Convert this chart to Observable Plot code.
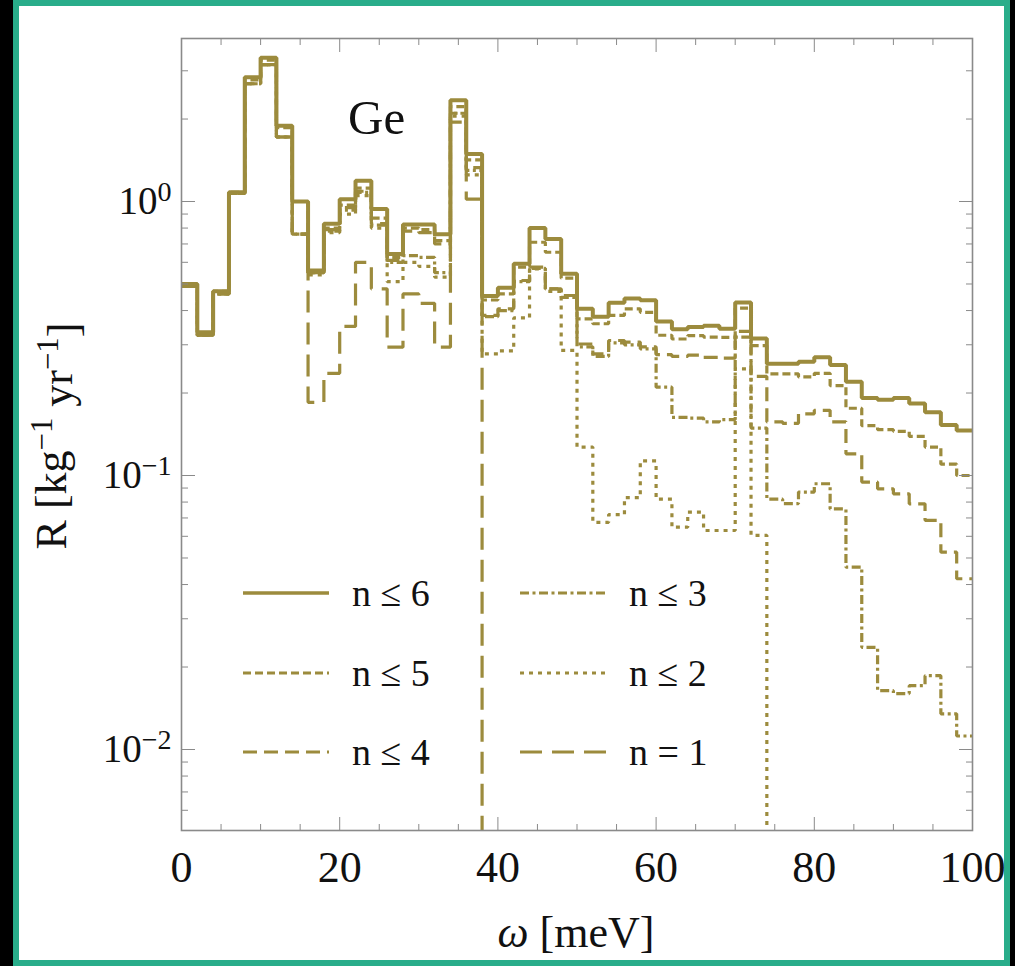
<!DOCTYPE html>
<html>
<head>
<meta charset="utf-8">
<script src="https://cdn.jsdelivr.net/npm/d3@7"></script>
<script src="https://cdn.jsdelivr.net/npm/@observablehq/plot@0.6"></script>
<style>
  html, body { margin: 0; padding: 0; background: #000; }
  #wrap { position: relative; width: 1015px; height: 966px; overflow: hidden; background: #000; }
  #card { position: absolute; left: 13px; top: 0; width: 997px; height: 966px; box-sizing: border-box;
          border: 6px solid #29ad8a; background: #fff; }
  #chart { position: absolute; left: 0; top: 0; }
</style>
</head>
<body>
<div id="wrap"><div id="card"></div><div id="chart"></div></div>
<script>
// ---- data ----
const binEdges = [0,2,4,6,8,10,12,14,16,18,20,22,24,26,28,30,32,34,36,38,40,42,44,46,48,50,
                  52,54,56,58,60,62,64,66,68,70,72,74,76,78,80,82,84,86,88,90,92,94,96,98,100];
const seriesLabels = ["n ≤ 6", "n ≤ 5", "n ≤ 4", "n ≤ 3", "n ≤ 2", "n = 1"];

const n6 = [0.50, 0.333, 0.47, 1.08, 2.84, 3.35, 1.89, 1.00, 0.56, 0.83,
            1.02, 1.19, 0.94, 0.644, 0.824, 0.824, 0.76, 2.34, 1.49, 0.452,
            0.484, 0.593, 0.80, 0.73, 0.545, 0.406, 0.38, 0.427, 0.443, 0.436,
            0.365, 0.342, 0.348, 0.352, 0.343, 0.428, 0.316, 0.256, 0.256, 0.26,
            0.27, 0.253, 0.22, 0.192, 0.189, 0.192, 0.183, 0.17, 0.153, 0.146];
const n5 = [0.50, 0.33, 0.47, 1.08, 2.78, 3.28, 1.86, 1.00, 0.55, 0.80,
            0.97, 1.12, 0.87, 0.625, 0.80, 0.79, 0.72, 2.22, 1.42, 0.437,
            0.46, 0.576, 0.71, 0.653, 0.525, 0.373, 0.358, 0.384, 0.406, 0.394,
            0.325, 0.315, 0.324, 0.32, 0.319, 0.408, 0.298, 0.235, 0.235, 0.229,
            0.236, 0.213, 0.176, 0.152, 0.147, 0.145, 0.139, 0.127, 0.110, 0.100];
const n4 = [0.49, 0.325, 0.46, 1.07, 2.69, 3.16, 1.72, 0.76, 0.55, 0.79,
            0.95, 1.09, 0.83, 0.61, 0.78, 0.77, 0.70, 2.10, 1.33, 0.384,
            0.406, 0.515, 0.576, 0.48, 0.454, 0.302, 0.278, 0.311, 0.307, 0.295,
            0.276, 0.272, 0.275, 0.27, 0.268, 0.336, 0.23, 0.157, 0.155, 0.168,
            0.173, 0.157, 0.12, 0.0946, 0.0894, 0.0857, 0.0788, 0.0686, 0.0525, 0.042];
const n3 = [0.49, 0.325, 0.46, 1.07, 2.69, 3.16, 1.72, 0.76, 0.55, 0.78,
            0.93, 1.08, 0.82, 0.60, 0.635, 0.625, 0.55, 2.10, 1.30, 0.38,
            0.40, 0.51, 0.57, 0.48, 0.447, 0.295, 0.272, 0.305, 0.30, 0.29,
            0.21, 0.163, 0.162, 0.157, 0.16, 0.32, 0.149, 0.082, 0.079, 0.087,
            0.0933, 0.0755, 0.0463, 0.0236, 0.0164, 0.016, 0.0171, 0.0186, 0.0135, 0.0112];
const n2 = [0.49, 0.325, 0.46, 1.07, 2.69, 3.16, 1.72, 0.76, 0.54, 0.77,
            0.90, 1.05, 0.80, 0.51, 0.60, 0.58, 0.53, 2.05, 1.25, 0.278,
            0.285, 0.376, 0.568, 0.47, 0.286, 0.127, 0.0675, 0.072, 0.083, 0.113,
            0.082, 0.0648, 0.0735, 0.063, 0.063, 0.245, 0.0605, 0, 0, 0,
            0, 0, 0, 0, 0, 0, 0, 0, 0, 0];
const n1 = [0.49, 0.325, 0.46, 1.07, 2.69, 3.16, 1.72, 0.76, 0.185, 0.236,
            0.35, 0.60, 0.48, 0.294, 0.46, 0.425, 0.294, 1.95, 1.02, 0,
            0, 0, 0, 0, 0, 0, 0, 0, 0, 0,
            0, 0, 0, 0, 0, 0, 0, 0, 0, 0,
            0, 0, 0, 0, 0, 0, 0, 0, 0, 0];

const xMajor = [0, 20, 40, 60, 80, 100];
const xMinor = [5, 10, 15, 25, 30, 35, 45, 50, 55, 65, 70, 75, 85, 90, 95];
const yMajor = [0.01, 0.1, 1];
const yMinor = [0.006, 0.007, 0.008, 0.009,
                0.02, 0.03, 0.04, 0.05, 0.06, 0.07, 0.08, 0.09,
                0.2, 0.3, 0.4, 0.5, 0.6, 0.7, 0.8, 0.9, 2, 3];

// ---- styles ----
const olive = "#9c8b3d";
const frameColor = "#8a8a8a";
const dashStyles = ["none", "8,4", "14,7", "9,3.5,3,3.5", "4,5", "22,10"];
const lineWidths = [4, 3.2, 3.2, 3.2, 3.2, 3.2];
const serif = "'Liberation Serif', 'DejaVu Serif', serif";

const allSeries = [n6, n5, n4, n3, n2, n1];
const FLOOR = 1e-4; // zero rate drawn below the axis range
function toRows(vals) {
  const r = vals.map((v, i) => ({x: binEdges[i], y: v > 0 ? v : FLOOR}));
  r.push({x: binEdges[vals.length], y: r[r.length - 1].y});
  return r;
}

const lineMarks = [];
for (let k = allSeries.length - 1; k >= 0; k--) {
  lineMarks.push(Plot.line(toRows(allSeries[k]), {
    x: "x", y: "y", curve: "step-after", clip: true,
    stroke: olive, strokeWidth: lineWidths[k],
    strokeDasharray: dashStyles[k] === "none" ? null : dashStyles[k],
    strokeLinejoin: "miter", strokeLinecap: "butt"
  }));
}

const supFmt = d => "10^" + Math.round(Math.log10(d));
const blank = () => "";

const chart = Plot.plot({
  width: 1015, height: 966,
  marginLeft: 181, marginRight: 43, marginTop: 38, marginBottom: 136,
  style: {background: "transparent", fontFamily: serif, color: "#111"},
  x: {domain: [0, 100], axis: null},
  y: {type: "log", domain: [0.005063, 3.935], axis: null},
  marks: [
    ...lineMarks,
    Plot.axisX(xMajor, {anchor: "bottom", tickSize: -13, tickFormat: blank, stroke: frameColor, label: null}),
    Plot.axisX(xMinor, {anchor: "bottom", tickSize: -6, tickFormat: blank, stroke: frameColor, label: null}),
    Plot.axisX(xMajor, {anchor: "top", tickSize: -13, tickFormat: blank, stroke: frameColor, label: null}),
    Plot.axisX(xMinor, {anchor: "top", tickSize: -6, tickFormat: blank, stroke: frameColor, label: null}),
    Plot.axisY(yMajor, {anchor: "left", tickSize: -14, tickFormat: blank, stroke: frameColor, label: null}),
    Plot.axisY(yMinor, {anchor: "left", tickSize: -7, tickFormat: blank, stroke: frameColor, label: null}),
    Plot.axisY(yMajor, {anchor: "right", tickSize: -14, tickFormat: blank, stroke: frameColor, label: null}),
    Plot.axisY(yMinor, {anchor: "right", tickSize: -7, tickFormat: blank, stroke: frameColor, label: null}),
    Plot.axisX(xMajor, {anchor: "bottom", tickSize: 0, tickPadding: 20, fontSize: 44, label: null}),
    Plot.axisY(yMajor, {anchor: "left", tickSize: 0, tickPadding: 10, fontSize: 39, tickFormat: supFmt, label: null}),
    Plot.frame({stroke: frameColor, strokeWidth: 1.6})
  ]
});
document.getElementById("chart").appendChild(chart);

const svg = d3.select(chart);
// superscripts on y tick labels
svg.selectAll("text").each(function () {
  const s = this.textContent;
  if (/^10\^-?\d+$/.test(s)) {
    const [base, exp] = s.split("^");
    const t = d3.select(this);
    t.text(null);
    t.append("tspan").text(base);
    t.append("tspan").attr("dy", "-0.45em").attr("font-size", "0.72em").text(exp.replace("-", "\u2212"));
  }
});

// axis labels
const xl = svg.append("text").attr("x", 576).attr("y", 947).attr("text-anchor", "middle")
  .attr("font-family", serif).attr("font-size", 44).attr("fill", "#111");
xl.append("tspan").attr("font-style", "italic").text("ω");
xl.append("tspan").text(" [meV]");

const yl = svg.append("text").attr("transform", "translate(66,436) rotate(-90)").attr("text-anchor", "middle")
  .attr("font-family", serif).attr("font-size", 44).attr("fill", "#111");
yl.append("tspan").text("R [kg");
yl.append("tspan").attr("dy", "-0.45em").attr("font-size", "0.7em").text("\u22121");
yl.append("tspan").attr("dy", "0.45em").text(" yr");
yl.append("tspan").attr("dy", "-0.45em").attr("font-size", "0.7em").text("\u22121");
yl.append("tspan").attr("dy", "0.45em").text("]");

// panel title
svg.append("text").attr("x", 348).attr("y", 134).attr("text-anchor", "start")
  .attr("font-family", serif).attr("font-size", 49).attr("fill", "#111").text("Ge");

// legend (inside plot area, two columns)
const legendPos = [[243, 593], [243, 673], [243, 752], [520, 593], [520, 673], [520, 752]];
const lg = svg.append("g").attr("font-family", serif).attr("font-size", 38).attr("fill", "#111")
  .attr("text-anchor", "start");
seriesLabels.forEach((lab, k) => {
  const [lx, ly] = legendPos[k];
  lg.append("line").attr("x1", lx).attr("x2", lx + 86).attr("y1", ly).attr("y2", ly)
    .attr("stroke", olive).attr("stroke-width", k === 0 ? 3.4 : 3.2)
    .attr("stroke-dasharray", dashStyles[k] === "none" ? null : dashStyles[k]);
  lg.append("text").attr("x", lx + 109).attr("y", ly + 13).text(lab);
});
</script>
</body>
</html>
